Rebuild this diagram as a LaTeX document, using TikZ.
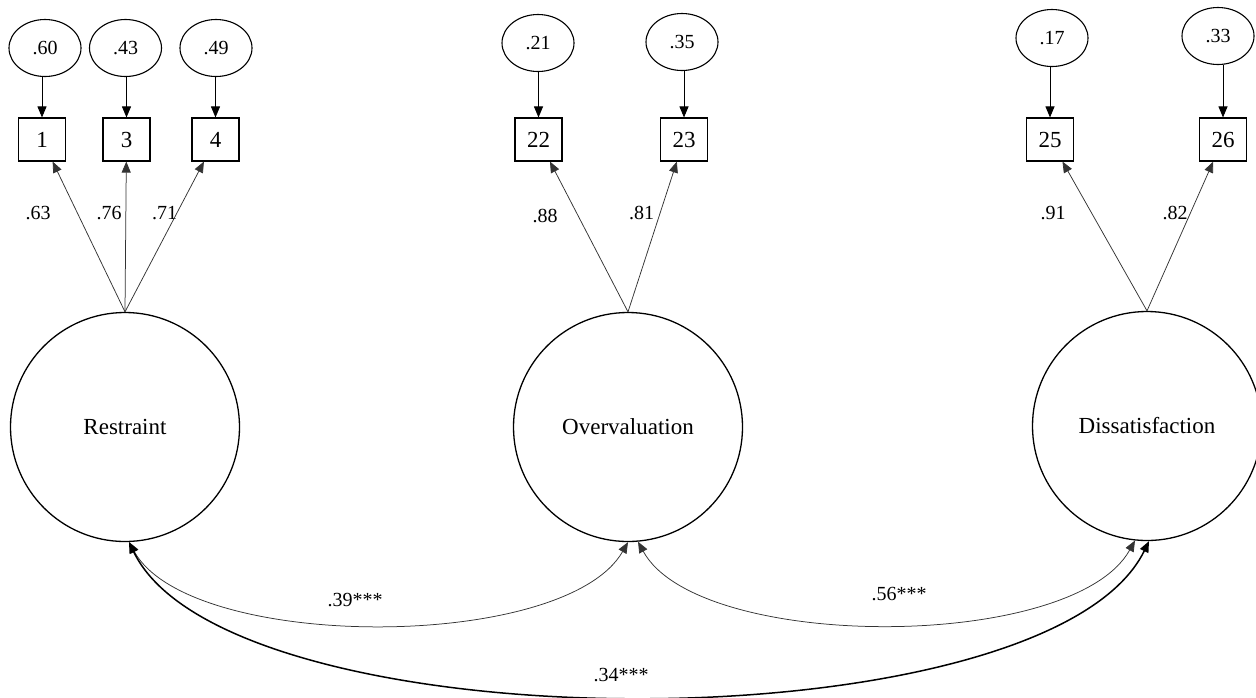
\documentclass[tikz,border=0pt]{standalone}
\usepackage{fontspec}
\setmainfont{Liberation Serif}
\usetikzlibrary{arrows.meta,shapes.geometric}
\begin{document}
\begin{tikzpicture}[x=1pt,y=-1pt,
  lat/.style={circle,draw,line width=1.3pt,minimum size=229pt,inner sep=0pt,font=\fontsize{23}{27}\selectfont},
  err/.style={ellipse,draw,line width=1.1pt,minimum width=72pt,minimum height=57pt,inner sep=0pt,font=\fontsize{20}{24}\selectfont},
  obs/.style={rectangle,draw,line width=1.1pt,minimum width=47pt,minimum height=43pt,inner sep=0pt,font=\fontsize{23}{27}\selectfont},
  tipend/.style={-{Triangle[length=11pt,width=9pt]}},
  load/.style={tipend,line width=0.75pt,draw=black!80},
  errarr/.style={tipend,line width=0.9pt},
  cov/.style={{Triangle[length=11pt,width=9pt]}-{Triangle[length=11pt,width=9pt]},line width=0.75pt,draw=black!80},
  covb/.style={{Triangle[length=11pt,width=9pt]}-{Triangle[length=11pt,width=9pt]},line width=1.5pt,draw=black},
  lab/.style={font=\fontsize{20}{24}\selectfont,inner sep=0pt}
]
\useasboundingbox (0,0) rectangle (1256,697);

% latent factors
\node[lat] (R) at (125,427) {Restraint};
\node[lat] (O) at (628,427) {Overvaluation};
\node[lat] (D) at (1147,426) {Dissatisfaction};

% indicators
\node[obs] (b1)  at (42,139.5)   {1};
\node[obs] (b3)  at (126.5,139.5){3};
\node[obs] (b4)  at (215.5,139.5){4};
\node[obs] (b22) at (538.5,139.5){22};
\node[obs] (b23) at (684,139.5)  {23};
\node[obs] (b25) at (1050,139.5) {25};
\node[obs] (b26) at (1223,139.5) {26};

% error terms
\node[err] (e1)  at (45,48)   {.60};
\node[err] (e3)  at (125.5,48){.43};
\node[err] (e4)  at (216,48)  {.49};
\node[err] (e22) at (538,43)  {.21};
\node[err] (e23) at (682,42)  {.35};
\node[err] (e25) at (1052,38) {.17};
\node[err] (e26) at (1218,36) {.33};

\foreach \e/\b in {e1/b1,e3/b3,e4/b4,e22/b22,e23/b23,e25/b25,e26/b26}
  \draw[errarr] (\e.south -| \b.north) -- (\b.north);

% loadings
\draw[load] (R.north) -- (b1);
\draw[load] (R.north) -- (b3);
\draw[load] (R.north) -- (b4);
\draw[load] (O.north) -- (b22);
\draw[load] (O.north) -- (b23);
\draw[load] (D.north) -- (b25);
\draw[load] (D.north) -- (b26);

\node[lab] (l63) at (38,213)    {.63};
\node[lab] (l76) at (109,213)   {.76};
\node[lab] (l71) at (164.5,213) {.71};
\node[lab] (l88) at (545,216)   {.88};
\node[lab] (l81) at (641.5,213) {.81};
\node[lab] (l91) at (1053,213)  {.91};
\node[lab] (l82) at (1175,213)  {.82};

% covariances
\draw[cov] (R.-88) .. controls (190,652) and (565,652) .. (O.-90.5);
\draw[cov] (O.-85) .. controls (698,652) and (1073,652) .. (D.-96.5);
\draw[covb] (R.-88) .. controls (228,748) and (1048,748) .. (D.-89.5);

\node[lab] (c39) at (355,600) {.39***};
\node[lab] (c56) at (899,594) {.56***};
\node[lab] (c34) at (621,675) {.34***};
\end{tikzpicture}
\end{document}
